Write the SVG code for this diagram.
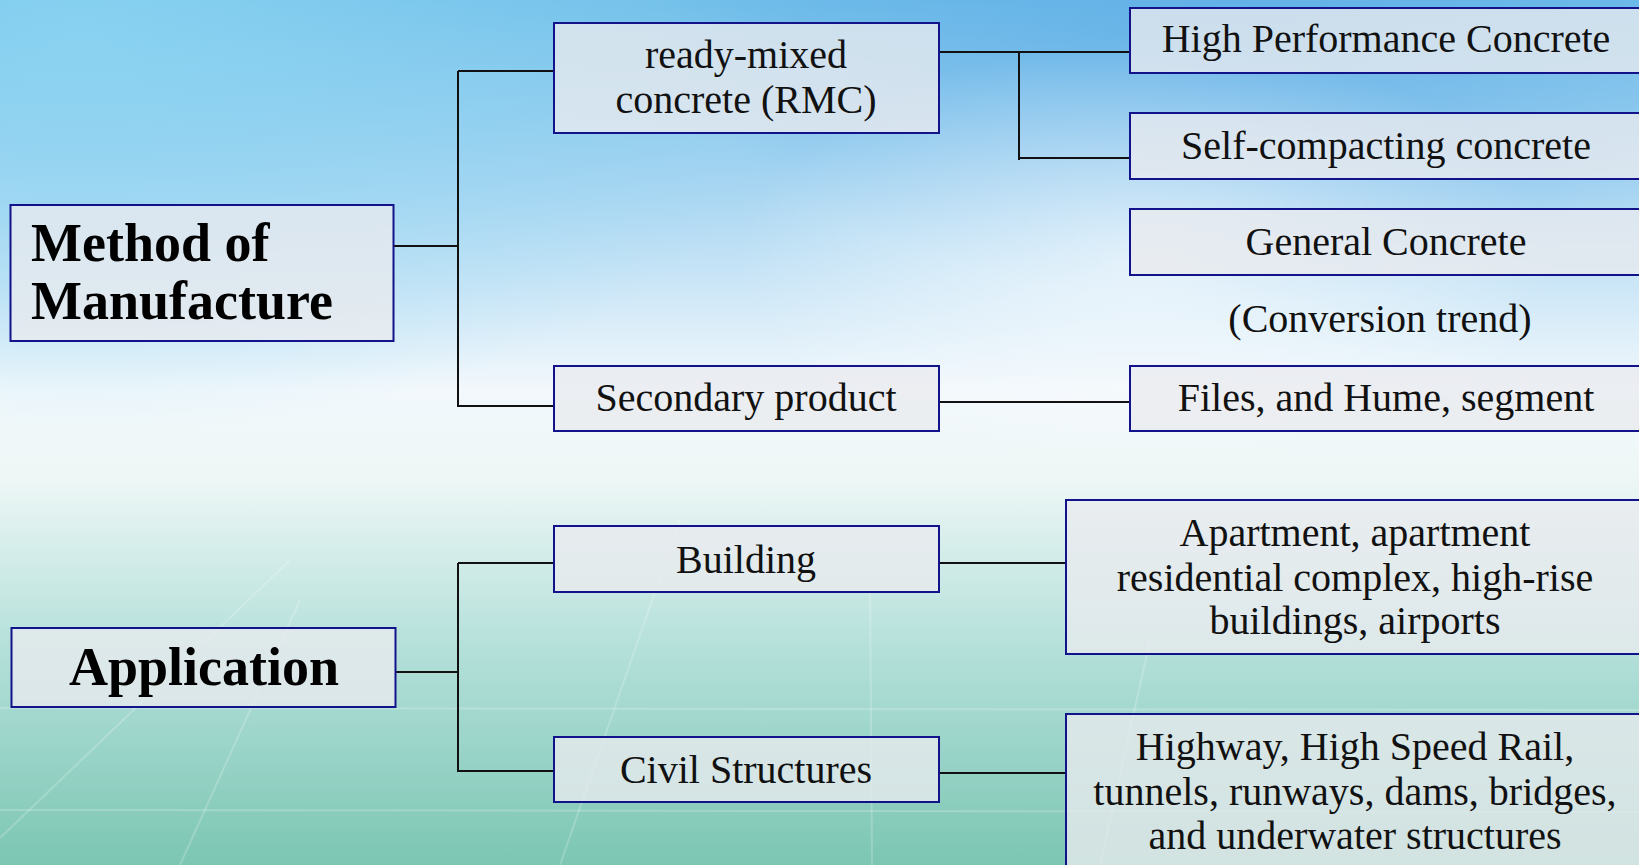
<svg xmlns="http://www.w3.org/2000/svg" width="1639" height="865" viewBox="0 0 1639 865">
<defs>
<linearGradient id="bg" x1="0" y1="0" x2="0" y2="1">
<stop offset="0" stop-color="#6fbde9"/>
<stop offset="0.22" stop-color="#a9d6f2"/>
<stop offset="0.45" stop-color="#f2f8fc"/>
<stop offset="0.55" stop-color="#eef7f6"/>
<stop offset="0.75" stop-color="#b4e0da"/>
<stop offset="1" stop-color="#7cc6b3"/>
</linearGradient>
<radialGradient id="glowL" cx="0.05" cy="0.05" r="0.45">
<stop offset="0" stop-color="#8ed6f2" stop-opacity="0.8"/>
<stop offset="1" stop-color="#8ed6f2" stop-opacity="0"/>
</radialGradient>
<radialGradient id="glowR" cx="0.75" cy="0.0" r="0.35">
<stop offset="0" stop-color="#5aa8e6" stop-opacity="0.6"/>
<stop offset="1" stop-color="#5aa8e6" stop-opacity="0"/>
</radialGradient>
<radialGradient id="glowC" cx="0.7" cy="0.3" r="0.25">
<stop offset="0" stop-color="#ffffff" stop-opacity="0.6"/>
<stop offset="1" stop-color="#ffffff" stop-opacity="0"/>
</radialGradient>
<style>
.box{fill:#e9eaee;fill-opacity:0.78;stroke:#12128a;stroke-width:2}
.t{font-family:"Liberation Serif",serif;font-size:40px;fill:#111;text-anchor:middle}
.b{font-family:"Liberation Serif",serif;font-size:54px;font-weight:bold;fill:#000}
.c{fill:none;stroke:#111;stroke-width:2}
.deco{stroke:#ffffff;stroke-opacity:0.2;stroke-width:2;fill:none}
</style>
</defs>
<rect width="1639" height="865" fill="url(#bg)"/>
<rect width="1639" height="865" fill="url(#glowL)"/>
<rect width="1639" height="865" fill="url(#glowR)"/>
<rect width="1639" height="865" fill="url(#glowC)"/>
<g id="background-lines">
<path class="deco" d="M0 838 L290 560"/>
<path class="deco" d="M180 865 L300 600"/>
<path class="deco" d="M560 865 L680 520"/>
<path class="deco" d="M1100 865 L1150 640"/>
<path class="deco" d="M0 708 L1639 710"/>
<path class="deco" d="M0 810 L1639 812"/>
<path class="deco" d="M870 580 L872 865"/>
</g>

<g id="connectors">
<path class="c" d="M394 246 H458 M458 71 V407 M458 71 H554 M458 406 H554"/>
<path class="c" d="M939 52 H1130 M1019 52 V160 M1019 158 H1130"/>
<path class="c" d="M939 402 H1130"/>
<path class="c" d="M396 672 H458 M458 563 V772 M458 563 H554 M458 771 H554"/>
<path class="c" d="M939 563 H1066"/>
<path class="c" d="M939 773 H1066"/>
</g>

<g id="method">
<rect class="box" x="10.5" y="205" width="383" height="136"/>
<text class="b" x="31" y="261">Method of</text>
<text class="b" x="31" y="319">Manufacture</text>
</g>
<g id="application">
<rect class="box" x="11.5" y="628" width="384" height="79"/>
<text class="b" x="204" y="685" text-anchor="middle">Application</text>
</g>
<g id="rmc">
<rect class="box" x="554" y="23" width="385" height="110"/>
<text class="t" x="746" y="68">ready-mixed</text>
<text class="t" x="746" y="113">concrete (RMC)</text>
</g>
<g id="secondary">
<rect class="box" x="554" y="366" width="385" height="65"/>
<text class="t" x="746" y="411">Secondary product</text>
</g>
<g id="building">
<rect class="box" x="554" y="526" width="385" height="66"/>
<text class="t" x="746" y="573">Building</text>
</g>
<g id="civil">
<rect class="box" x="554" y="737" width="385" height="65"/>
<text class="t" x="746" y="783">Civil Structures</text>
</g>
<g id="hpc">
<rect class="box" x="1130" y="8" width="520" height="65"/>
<text class="t" x="1386" y="52">High Performance Concrete</text>
</g>
<g id="scc">
<rect class="box" x="1130" y="113" width="520" height="66"/>
<text class="t" x="1386" y="159">Self-compacting concrete</text>
</g>
<g id="general">
<rect class="box" x="1130" y="209" width="520" height="66"/>
<text class="t" x="1386" y="255">General Concrete</text>
</g>
<g id="conversion">
<text class="t" x="1380" y="332">(Conversion trend)</text>
</g>
<g id="files">
<rect class="box" x="1130" y="366" width="520" height="65"/>
<text class="t" x="1386" y="411">Files, and Hume, segment</text>
</g>
<g id="apartment">
<rect class="box" x="1066" y="500" width="590" height="154"/>
<text class="t" x="1355" y="546">Apartment, apartment</text>
<text class="t" x="1355" y="591">residential complex, high-rise</text>
<text class="t" x="1355" y="634">buildings, airports</text>
</g>
<g id="highway">
<rect class="box" x="1066" y="714" width="590" height="170"/>
<text class="t" x="1355" y="760">Highway, High Speed Rail,</text>
<text class="t" x="1355" y="805">tunnels, runways, dams, bridges,</text>
<text class="t" x="1355" y="849">and underwater structures</text>
</g>
</svg>
